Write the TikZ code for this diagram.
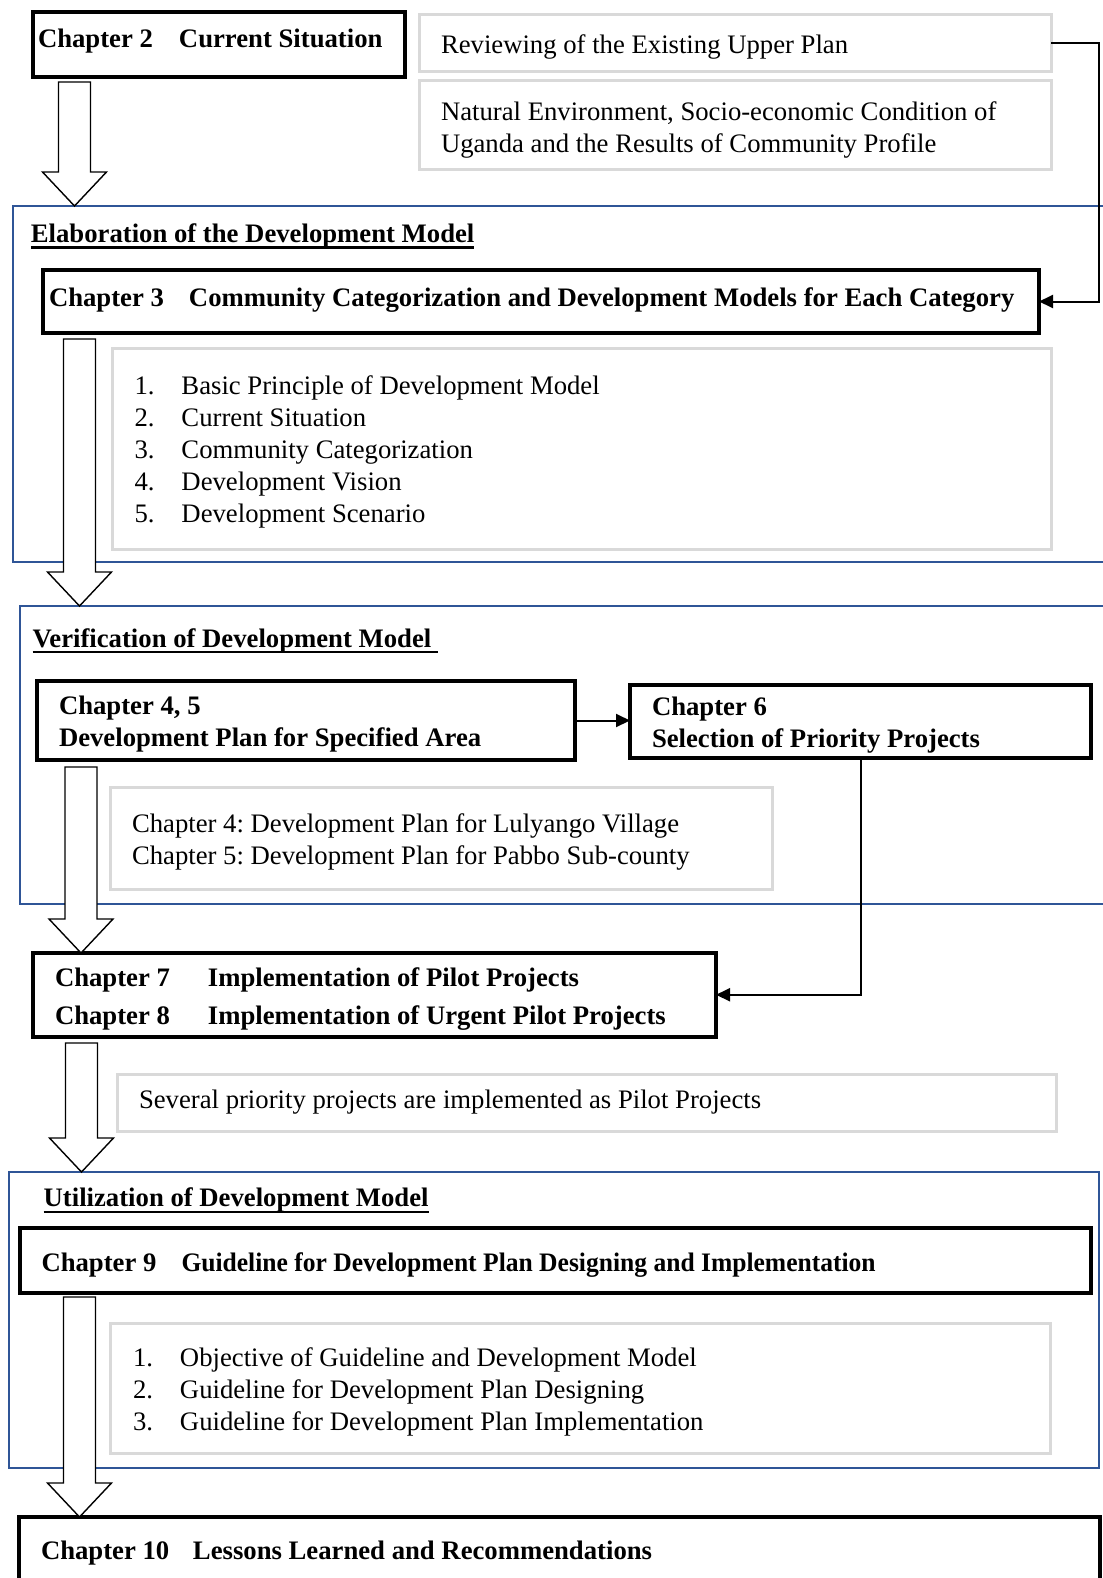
\documentclass[tikz,border=0pt]{standalone}
\usepackage{fontspec}
\setmainfont{Liberation Serif}
\usepackage{graphicx}
\usepackage{tikz}
\usetikzlibrary{positioning,calc,arrows.meta}
\definecolor{frameblue}{RGB}{47,85,151}
\definecolor{notegray}{RGB}{217,217,217}
\newcommand{\basefont}{\fontsize{13.35}{16}\selectfont\frenchspacing}
\newcommand{\ulbf}[1]{\sbox0{#1}\rlap{\rule[-3pt]{\wd0}{1.1pt}}\usebox0}
\newcommand{\num}[1]{\makebox[23.5pt][l]{#1}}
% #1 width, #2 first baseline below the box centre, #3 lines
\newcommand{\boxtext}[3]{\makebox[#1][l]{\raisebox{-#2}[0pt][0pt]{\begin{tabular}[t]{@{}l@{}}#3\end{tabular}}}}
\tikzstyle{chapter} = [draw, rectangle, line width=2pt, outer sep=0pt, inner xsep=11pt, inner ysep=0pt, anchor=north west, font=\basefont\bfseries]
\tikzstyle{note} = [draw=notegray, rectangle, line width=1.5pt, outer sep=0pt, inner xsep=11pt, inner ysep=0pt, anchor=north west, font=\basefont]
\tikzstyle{frame} = [draw=frameblue, rectangle, line width=1pt, outer sep=0pt, inner sep=0pt, anchor=north west]
\tikzstyle{heading} = [anchor=base west, inner sep=0pt, font=\basefont\bfseries]
\tikzstyle{conn} = [-{Triangle[length=7pt,width=6.5pt]}, line width=1pt]
\tikzstyle{hollow} = [draw, fill=white, line width=0.7pt, line join=miter]
% #1 top of the shaft, #2 node the tip lands on
\newcommand{\fatarrow}[2]{%
  \draw [hollow] let \p1=(#1), \p2=(#2) in
    (\x1-8pt,\y1) -- (\x1+8pt,\y1) -- (\x1+8pt,\y2+17pt) -- (\x1+16pt,\y2+17pt)
    -- (\x1,\y2) -- (\x1-16pt,\y2+17pt) -- (\x1-8pt,\y2+17pt) -- cycle;}

\begin{document}
\begin{tikzpicture}[x=0.5pt,y=-0.5pt]
	\useasboundingbox (0,0) rectangle (1102,1578);
	% frames
	\node (frame1) [frame, minimum width=548.75pt, minimum height=178pt] at (12.5,206) {};
	\node (frame2) [frame, minimum width=545.25pt, minimum height=149pt] at (19.5,606) {};
	\node (frame3) [frame, minimum width=545.25pt, minimum height=148pt] at (8.5,1172) {};
	\node (title1) [heading] at (30.5,242.5) {\ulbf{Elaboration of the Development Model}};
	\node (title2) [heading] at (32.2,647) {\ulbf{Verification of Development Model\ }};
	\node (title3) [heading] at (43.3,1206.7) {\ulbf{Utilization of Development Model}};
	% notes
	\node (review) [note, minimum height=28.5pt] at (419,15) {\boxtext{294pt}{4.9pt}{Reviewing of the Existing Upper Plan}};
	\node (natural) [note, minimum height=44.5pt] at (419,81) {\boxtext{294pt}{-2.5pt}{Natural Environment, Socio-economic Condition of\\Uganda and the Results of Community Profile}};
	\node (list3) [note, minimum height=100.5pt] at (112.5,348) {\boxtext{447.5pt}{-27.15pt}{\num{1.}Basic Principle of Development Model\\\num{2.}Current Situation\\\num{3.}Community Categorization\\\num{4.}Development Vision\\\num{5.}Development Scenario}};
	\node (list45) [note, inner xsep=10.75pt, minimum height=51pt] at (110.5,787) {\boxtext{309.25pt}{-2.75pt}{Chapter 4: Development Plan for Lulyango Village\\Chapter 5: Development Plan for Pabbo Sub-county}};
	\node (pilot) [note, inner xsep=10.75pt, minimum height=28.5pt] at (117.5,1074.5) {\boxtext{447.75pt}{2.75pt}{Several priority projects are implemented as Pilot Projects}};
	\node (list9) [note, inner xsep=11.5pt, minimum height=65pt] at (110,1323) {\boxtext{447pt}{-10.6pt}{\num{1.}Objective of Guideline and Development Model\\\num{2.}Guideline for Development Plan Designing\\\num{3.}Guideline for Development Plan Implementation}};
	% chapters
	\node (ch2) [chapter, inner xsep=2.5pt, minimum height=32.5pt] at (33,12) {\boxtext{181pt}{1.75pt}{\makebox[70.5pt][l]{Chapter 2}Current Situation}};
	\node (ch3) [chapter, inner xsep=3pt, minimum height=31.5pt] at (43,270) {\boxtext{492pt}{2.5pt}{\makebox[70pt][l]{Chapter 3}Community Categorization and Development Models for Each Category}};
	\node (ch45) [chapter, minimum height=39.5pt] at (37,681) {\boxtext{246.75pt}{-3.25pt}{Chapter 4, 5\\Development Plan for Specified Area}};
	\node (ch6) [chapter, minimum height=36.25pt] at (630,685) {\boxtext{208.5pt}{-3pt}{Chapter 6\\Selection of Priority Projects}};
	\node (ch78) [chapter, font=\fontsize{13.35}{18.75}\selectfont\frenchspacing\bfseries, minimum height=41.75pt] at (33,953) {\boxtext{319.5pt}{-3.9pt}{\makebox[76.5pt][l]{Chapter 7}Implementation of Pilot Projects\\\makebox[76.5pt][l]{Chapter 8}Implementation of Urgent Pilot Projects}};
	\node (ch9) [chapter, minimum height=32.5pt] at (19.5,1228) {\boxtext{513.75pt}{5.25pt}{\makebox[70pt][l]{Chapter 9}\scalebox{0.957}[1]{Guideline for Development Plan Designing and Implementation}}};
	\node (ch10) [chapter, minimum height=36.5pt] at (19,1517) {\boxtext{518.5pt}{3pt}{\makebox[76pt][l]{Chapter 10}Lessons Learned and Recommendations}};
	% big arrows down the left side
	\fatarrow{$(ch2.south west)+(41.5,5)$}{frame1.north}
	\fatarrow{$(ch3.south west)+(36.5,6)$}{frame2.north}
	\fatarrow{$(ch45.south west)+(44,7)$}{ch78.north}
	\fatarrow{$(ch78.south west)+(48.5,6.5)$}{frame3.north}
	\fatarrow{$(ch9.south west)+(60,4)$}{ch10.north}
	% connectors
	\draw [conn] (review.east) -- ++(24pt,0) |- (ch3.east);
	\draw [conn] (ch45.east) -- (ch45.east -| ch6.west);
	\draw [conn] (ch6.south) |- (ch78.east);
\end{tikzpicture}
\end{document}
